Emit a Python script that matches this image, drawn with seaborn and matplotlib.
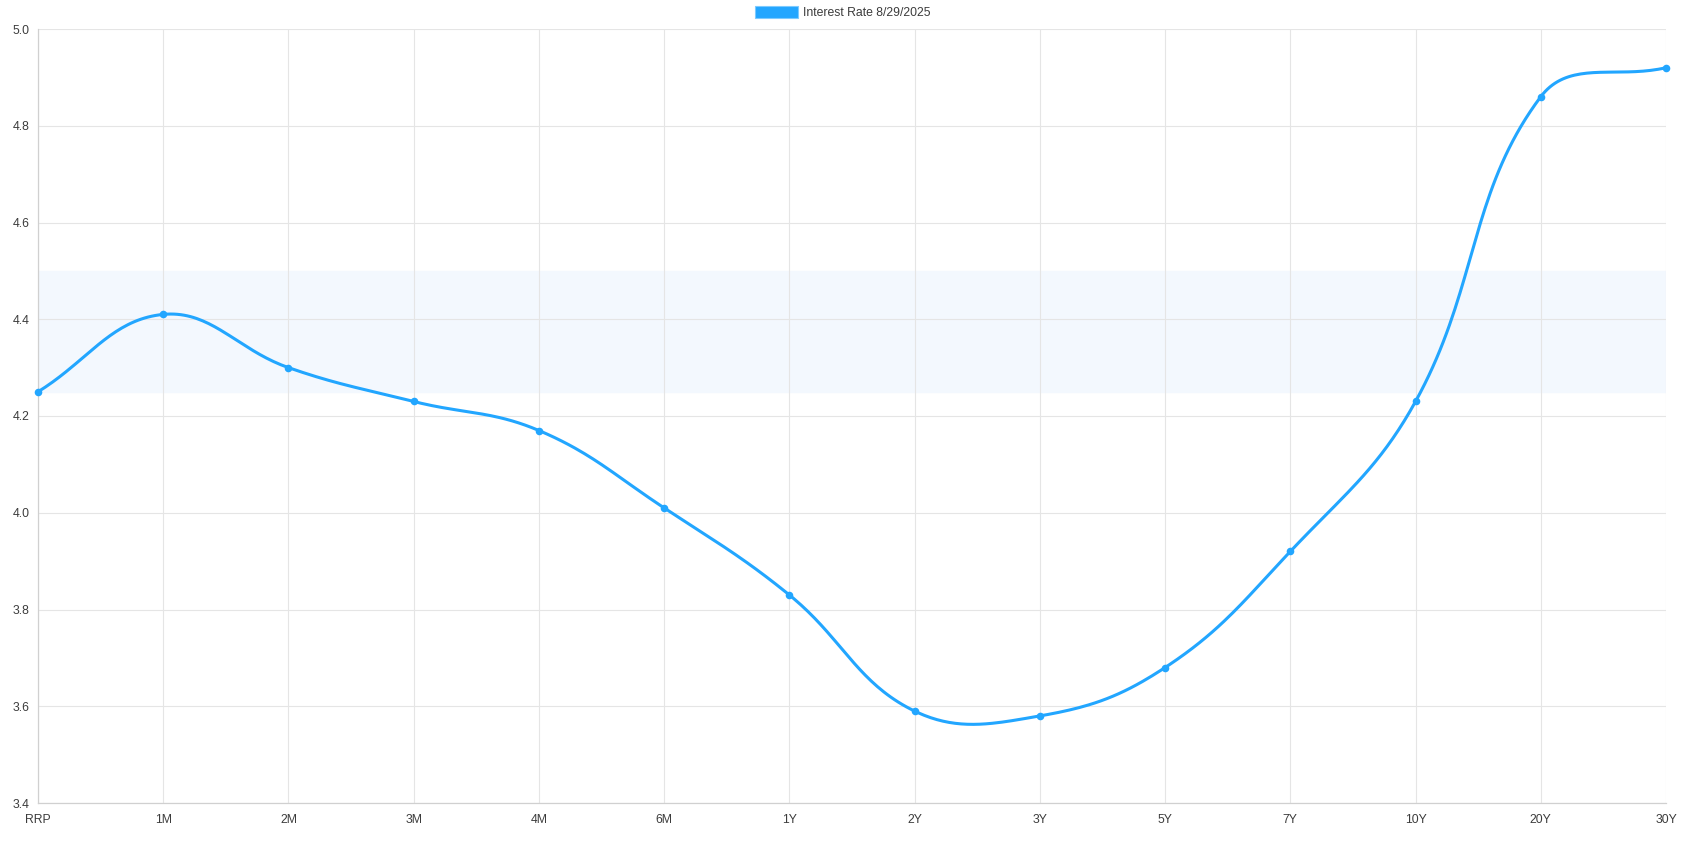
import numpy as np
import pandas as pd
import matplotlib
matplotlib.use("Agg")
import matplotlib.pyplot as plt
from matplotlib.patches import Patch
import seaborn as sns

# Treasury curve
TENORS = ["RRP", "1M", "2M", "3M", "4M", "6M", "1Y", "2Y", "3Y", "5Y", "7Y", "10Y", "20Y", "30Y"]
RATES = [4.25, 4.41, 4.30, 4.23, 4.17, 4.01, 3.83, 3.59, 3.58, 3.68, 3.92, 4.23, 4.86, 4.92]
SERIES_LABEL = "Interest Rate 8/29/2025"

# fed funds target range shown as a shaded band
BAND_LOW = 4.25
BAND_HIGH = 4.50

Y_MIN, Y_MAX = 3.4, 5.0
Y_TICKS = [3.4, 3.6, 3.8, 4.0, 4.2, 4.4, 4.6, 4.8, 5.0]

LINE_COLOR = "#22a6ff"
BAND_COLOR = "#f3f8fe"
GRID_COLOR = "#e5e5e5"
TEXT_COLOR = "#3c3c3c"
TENSION = 0.4

W, H = 1703, 841


def spline_control_points(px, py, tension=TENSION):
    """Chart.js style bezier control points, computed in pixel space."""
    n = len(px)
    prev_cp = np.zeros((n, 2))
    next_cp = np.zeros((n, 2))
    for i in range(n):
        p0 = np.array([px[max(i - 1, 0)], py[max(i - 1, 0)]])
        p1 = np.array([px[i], py[i]])
        p2 = np.array([px[min(i + 1, n - 1)], py[min(i + 1, n - 1)]])
        d01 = np.hypot(*(p1 - p0))
        d12 = np.hypot(*(p2 - p1))
        tot = d01 + d12
        s01 = d01 / tot if tot else 0
        s12 = d12 / tot if tot else 0
        prev_cp[i] = p1 - tension * s01 * (p2 - p0)
        next_cp[i] = p1 + tension * s12 * (p2 - p0)
    return prev_cp, next_cp


def smooth_curve(ax, xs, ys, steps=40):
    pts = ax.transData.transform(np.column_stack([xs, ys]))
    prev_cp, next_cp = spline_control_points(pts[:, 0], pts[:, 1])
    t = np.linspace(0, 1, steps)[:, None]
    out = []
    for i in range(len(pts) - 1):
        a, b, c, d = pts[i], next_cp[i], prev_cp[i + 1], pts[i + 1]
        seg = ((1 - t) ** 3) * a + 3 * ((1 - t) ** 2) * t * b + 3 * (1 - t) * t ** 2 * c + t ** 3 * d
        out.append(seg if i == 0 else seg[1:])
    out = np.vstack(out)
    return ax.transData.inverted().transform(out)


sns.set_theme(style="white")
plt.rcParams["font.family"] = ["Liberation Sans", "DejaVu Sans"]

fig = plt.figure(figsize=(W / 100, H / 100), dpi=100)
ax = fig.add_axes([38 / W, (H - 803) / H, (1666 - 38) / W, (803 - 29) / H])

x = np.arange(len(TENORS))
df = pd.DataFrame({"pos": x, "tenor": TENORS, "rate": RATES})

ax.set_xlim(0, len(TENORS) - 1)
ax.set_ylim(Y_MIN, Y_MAX)

ax.axhspan(BAND_LOW, BAND_HIGH, color=BAND_COLOR, zorder=0)

curve = smooth_curve(ax, df["pos"].values, df["rate"].values)
curve_df = pd.DataFrame({"x": curve[:, 0], "y": curve[:, 1]})
sns.lineplot(data=curve_df, x="x", y="y", sort=False, estimator=None,
             color=LINE_COLOR, linewidth=2.2, ax=ax, zorder=3)
sns.scatterplot(data=df, x="pos", y="rate", color=LINE_COLOR, s=30,
                edgecolor=LINE_COLOR, linewidth=0, ax=ax, zorder=4)
for art in ax.lines + ax.collections[-1:]:
    art.set_clip_on(False)

ax.set_xticks(x)
ax.set_xticklabels(TENORS)
ax.set_yticks(Y_TICKS)
ax.set_yticklabels([f"{v:.1f}" for v in Y_TICKS])
ax.set_xlabel("")
ax.set_ylabel("")

ax.grid(True, color=GRID_COLOR, linewidth=0.8)
ax.set_axisbelow(True)
for side, sp in ax.spines.items():
    sp.set_visible(side in ("left", "bottom"))
    sp.set_color("#d0d0d0")
    sp.set_linewidth(0.9)
ax.tick_params(axis="both", which="major", length=5, width=0.8, color=GRID_COLOR,
               labelsize=8.8, labelcolor=TEXT_COLOR)
ax.tick_params(axis="x", pad=3)
ax.tick_params(axis="y", pad=1)

handle = Patch(facecolor=LINE_COLOR, edgecolor="#7ccaff", linewidth=0.8)
fig.legend(handles=[handle], labels=[SERIES_LABEL], loc="center",
           bbox_to_anchor=(843 / W, 1 - 12.5 / H), frameon=False, borderpad=0,
           borderaxespad=0, handlelength=3.5, handleheight=1.2, handletextpad=0.4,
           fontsize=8.8, labelcolor=TEXT_COLOR)

fig.savefig("out.png", dpi=100)
